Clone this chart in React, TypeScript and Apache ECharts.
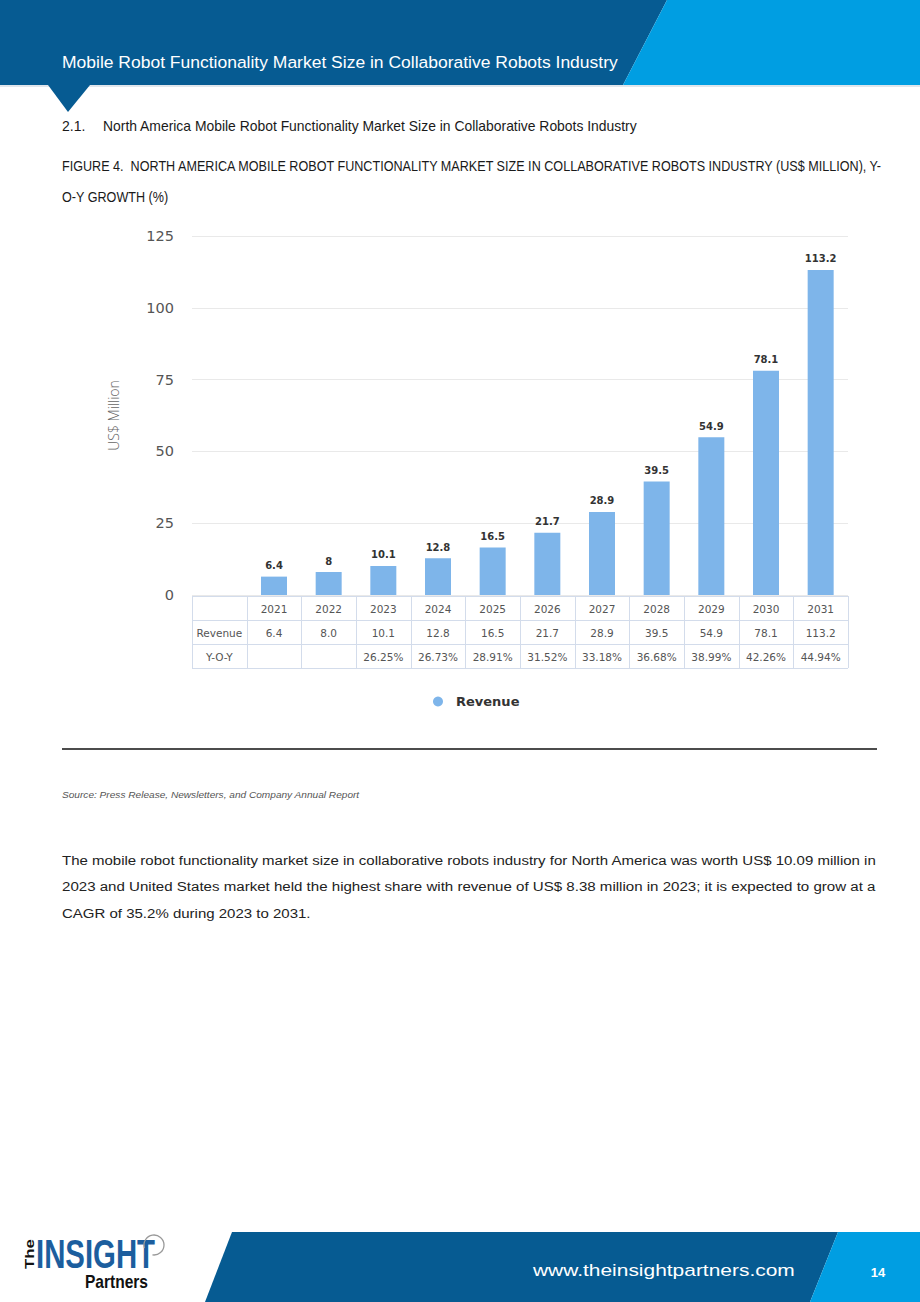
import React, { useEffect, useRef } from "react";
import * as echarts from "echarts";

// ---------- data ----------
const years = ["2021", "2022", "2023", "2024", "2025", "2026", "2027", "2028", "2029", "2030", "2031"];
const revenue = [6.4, 8, 10.1, 12.8, 16.5, 21.7, 28.9, 39.5, 54.9, 78.1, 113.2];
const revenueRow = ["6.4", "8.0", "10.1", "12.8", "16.5", "21.7", "28.9", "39.5", "54.9", "78.1", "113.2"];
const yoyRow = ["", "", "26.25%", "26.73%", "28.91%", "31.52%", "33.18%", "36.68%", "38.99%", "42.26%", "44.94%"];
const yMin = 0;
const yMax = 125;
const yInterval = 25;

const seriesName = "Revenue";
const rowLabels = ["", "Revenue", "Y-O-Y"];

const headerTitle = "Mobile Robot Functionality Market Size in Collaborative Robots Industry";
const sectionNum = "2.1.";
const sectionTitle = "North America Mobile Robot Functionality Market Size in Collaborative Robots Industry";
const captionLine1 = "FIGURE 4.  NORTH AMERICA MOBILE ROBOT FUNCTIONALITY MARKET SIZE IN COLLABORATIVE ROBOTS INDUSTRY (US$ MILLION), Y-";
const captionLine2 = "O-Y GROWTH (%)";
const sourceText = "Source: Press Release, Newsletters, and Company Annual Report";
const paraLines = [
  "The mobile robot functionality market size in collaborative robots industry for North America was worth US$ 10.09 million in",
  "2023 and United States market held the highest share with revenue of US$ 8.38 million in 2023; it is expected to grow at a",
  "CAGR of 35.2% during 2023 to 2031.",
];
const footerUrl = "www.theinsightpartners.com";
const pageNum = "14";

// ---------- layout ----------
const W = 920;
const H = 1302;
const GRID_LEFT = 192;
const GRID_RIGHT_X = 848;
const GRID_TOP = 236;
const GRID_BOTTOM_Y = 595;
const DARK = "#065B92";
const LIGHT = "#009EE2";
const BAR = "#7EB5EA";
const TABLE_LINE = "#D3DCEB";

const measureCtx = typeof document !== "undefined" ? document.createElement("canvas").getContext("2d") : null;
function fit(text: string, font: string, width: number): number {
  if (!measureCtx) return 1;
  measureCtx.font = font;
  const w = measureCtx.measureText(text).width;
  return w > 0 ? width / w : 1;
}

function txt(x: number, y: number, text: string, opts: any = {}) {
  const {
    size = 14,
    family = "Liberation Sans",
    weight = "normal",
    style = "normal",
    color = "#222",
    align = "left",
    fitWidth,
    scaleX,
    rotation = 0,
  } = opts;
  const font = `${style} ${weight} ${size}px "${family}"`;
  const sx = scaleX !== undefined ? scaleX : fitWidth ? fit(text, font, fitWidth) : 1;
  return {
    type: "text",
    x,
    y,
    scaleX: sx,
    rotation,
    silent: true,
    style: {
      text,
      fill: color,
      fontSize: size,
      fontFamily: family,
      fontWeight: weight,
      fontStyle: style,
      align,
      textAlign: align,
      verticalAlign: "middle",
      textVerticalAlign: "middle",
    },
  };
}

export default function App() {
  const ref = useRef<HTMLDivElement>(null);

  useEffect(() => {
    if (!ref.current) return;
    const chart = echarts.init(ref.current, undefined, { renderer: "svg" });

    const categories = ["", ...years];
    const nCols = categories.length;
    const colW = (GRID_RIGHT_X - GRID_LEFT) / nCols;
    const tableTop = 596;
    const rowH = 24;
    const nRows = rowLabels.length;
    const tableBottom = tableTop + rowH * nRows;

    const tableLines: any[] = [];
    for (let k = 0; k <= nCols; k++) {
      const x = Math.round(GRID_LEFT + k * colW) + 0.5;
      tableLines.push({
        type: "line",
        silent: true,
        shape: { x1: x, y1: tableTop, x2: x, y2: tableBottom },
        style: { stroke: TABLE_LINE, lineWidth: 1 },
      });
    }
    for (let r = 0; r <= nRows; r++) {
      const y = tableTop + r * rowH + 0.5;
      tableLines.push({
        type: "line",
        silent: true,
        shape: { x1: GRID_LEFT, y1: y, x2: GRID_RIGHT_X, y2: y },
        style: { stroke: TABLE_LINE, lineWidth: 1 },
      });
    }

    const paraFont = `normal normal 13.5px "Liberation Sans"`;
    const paraScale = fit(paraLines[0], paraFont, 815);
    const capFont = `normal normal 14px "Liberation Sans"`;
    const capScale = fit(captionLine1, capFont, 822);
    const secFont = `normal normal 14px "Liberation Sans"`;
    const secScale = fit(sectionTitle, secFont, 535);

    const tableAxisLabel = {
      interval: 0,
      fontSize: 10.5,
      fontFamily: "DejaVu Sans",
      color: "#555",
    };

    const option: any = {
      animation: false,
      backgroundColor: "#ffffff",
      grid: {
        left: GRID_LEFT,
        top: GRID_TOP,
        width: GRID_RIGHT_X - GRID_LEFT,
        height: GRID_BOTTOM_Y - GRID_TOP,
        containLabel: false,
      },
      legend: {
        data: [seriesName],
        left: 428,
        top: 690,
        icon: "circle",
        itemWidth: 14,
        itemHeight: 10,
        textStyle: {
          fontSize: 13,
          fontWeight: "bold",
          fontFamily: "DejaVu Sans",
          color: "#333",
          padding: [0, 0, 0, 6],
        },
      },
      xAxis: [
        {
          type: "category",
          data: categories,
          position: "bottom",
          axisLine: { show: false },
          axisTick: { show: false },
          axisLabel: { ...tableAxisLabel, margin: 8 },
        },
        {
          type: "category",
          data: [rowLabels[1], ...revenueRow],
          position: "bottom",
          offset: rowH,
          axisLine: { show: false },
          axisTick: { show: false },
          axisLabel: { ...tableAxisLabel, margin: 8 },
        },
        {
          type: "category",
          data: [rowLabels[2], ...yoyRow],
          position: "bottom",
          offset: rowH * 2,
          axisLine: { show: false },
          axisTick: { show: false },
          axisLabel: { ...tableAxisLabel, margin: 8 },
        },
      ],
      yAxis: {
        type: "value",
        min: yMin,
        max: yMax,
        interval: yInterval,
        name: "US$ Million",
        nameLocation: "middle",
        nameGap: 72,
        nameTextStyle: {
          fontFamily: "Open Sans",
          fontWeight: 300,
          fontSize: 14,
          color: "#666",
        },
        axisLine: { show: false },
        axisTick: { show: false },
        axisLabel: {
          margin: 18,
          fontSize: 14.5,
          fontFamily: "DejaVu Sans",
          color: "#555",
        },
        splitLine: { lineStyle: { color: "#E9E9E9", width: 1 } },
      },
      series: [
        {
          name: seriesName,
          type: "bar",
          xAxisIndex: 0,
          data: ["-", ...revenue],
          barWidth: 26,
          itemStyle: { color: BAR },
          label: {
            show: true,
            position: "top",
            distance: 6,
            fontSize: 10,
            fontWeight: "bold",
            fontFamily: "DejaVu Sans",
            color: "#333",
          },
        },
      ],
      graphic: [
        // header band
        {
          type: "polygon",
          silent: true,
          shape: { points: [[0, 0], [667, 0], [623, 85], [0, 85]] },
          style: { fill: DARK },
        },
        {
          type: "polygon",
          silent: true,
          shape: { points: [[667, 0], [W, 0], [W, 85], [623, 85]] },
          style: { fill: LIGHT },
        },
        {
          type: "line",
          silent: true,
          shape: { x1: 0, y1: 86, x2: W, y2: 86 },
          style: { stroke: "#D6DEE6", lineWidth: 1.5 },
        },
        {
          type: "polygon",
          silent: true,
          shape: { points: [[48, 85], [90, 85], [68, 112]] },
          style: { fill: DARK },
        },
        txt(62, 62, headerTitle, { size: 17, color: "#ffffff", fitWidth: 556 }),
        // section heading
        txt(62, 126, sectionNum, { size: 14, color: "#1a1a1a" }),
        txt(103, 126, sectionTitle, { size: 14, color: "#1a1a1a", scaleX: secScale }),
        txt(62, 166, captionLine1, { size: 14, color: "#1a1a1a", scaleX: capScale }),
        txt(62, 197, captionLine2, { size: 14, color: "#1a1a1a", scaleX: capScale }),
        // table
        ...tableLines,
        // separator
        {
          type: "line",
          silent: true,
          shape: { x1: 62, y1: 749, x2: 877, y2: 749 },
          style: { stroke: "#111", lineWidth: 1.5 },
        },
        txt(62, 795, sourceText, { size: 9.5, style: "italic", color: "#555", fitWidth: 298 }),
        // paragraph
        txt(62, 860, paraLines[0], { size: 13.5, color: "#222", scaleX: paraScale }),
        txt(62, 886, paraLines[1], { size: 13.5, color: "#222", fitWidth: 815 }),
        txt(62, 913, paraLines[2], { size: 13.5, color: "#222", scaleX: paraScale }),
        // footer
        {
          type: "polygon",
          silent: true,
          shape: { points: [[232, 1232], [838, 1232], [810, H], [205, H]] },
          style: { fill: DARK },
        },
        {
          type: "polygon",
          silent: true,
          shape: { points: [[838, 1232], [W, 1232], [W, H], [810, H]] },
          style: { fill: LIGHT },
        },
        txt(533, 1270, footerUrl, { size: 17, color: "#ffffff", fitWidth: 262 }),
        txt(878, 1272, pageNum, { size: 13, color: "#ffffff", weight: "bold", align: "center" }),
        // logo
        txt(29, 1254, "The", { size: 13, weight: "bold", color: "#111", rotation: Math.PI / 2, align: "center", fitWidth: 30 }),
        txt(36, 1254, "INSIGHT", { size: 40, weight: "bold", color: "#1C5E9E", fitWidth: 119 }),
        txt(85, 1282, "Partners", { size: 18, weight: "bold", color: "#111", fitWidth: 63 }),
        {
          type: "arc",
          silent: true,
          shape: { cx: 154, cy: 1245, r: 10, startAngle: -Math.PI * 1.1, endAngle: Math.PI * 0.55 },
          style: { stroke: "#9A9A9A", lineWidth: 1.3, fill: "none" },
        },
      ],
    };

    chart.setOption(option);
    return () => chart.dispose();
  }, []);

  return (
    <div
      ref={ref}
      style={{ position: "absolute", left: 0, top: 0, width: W, height: H, background: "#fff" }}
    />
  );
}
